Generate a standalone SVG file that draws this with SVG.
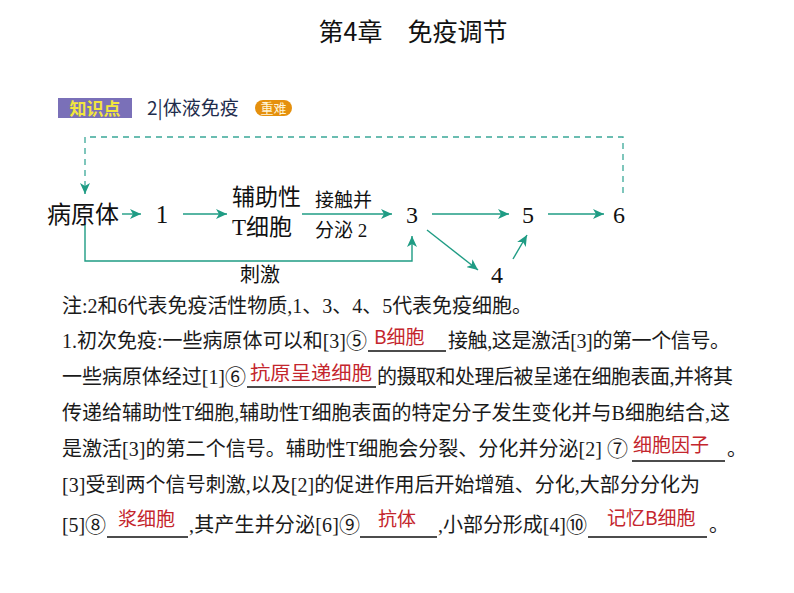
<svg xmlns="http://www.w3.org/2000/svg" width="794" height="593" viewBox="0 0 794 593">
<style>
.t{font-family:"Liberation Serif","Noto Sans CJK SC",serif;font-size:20px;fill:#1a1a1a}
.d{font-family:"Liberation Serif","Noto Sans CJK SC",serif;fill:#111}
.r{font-family:"Noto Sans CJK SC","Liberation Sans",sans-serif;font-size:19px;fill:#c4262d}
.n{font-family:"Noto Sans CJK SC","DejaVu Sans",sans-serif;font-size:21px}
.u{stroke:#111;stroke-width:1.3}
.c{fill:none;stroke:#1f9c84;stroke-width:1.4}
.dash{fill:none;stroke:#3aa898;stroke-width:1.3;stroke-dasharray:6 5}
</style>
<defs>
<marker id="ah" markerUnits="userSpaceOnUse" markerWidth="12" markerHeight="10" refX="11" refY="5" orient="auto">
<path d="M0,0 L11,5 L0,10 L3,5 z" fill="#1f9c84"/>
</marker>
</defs>
<rect width="794" height="593" fill="#fff"/>
<g id="title">
<text x="413" y="41" text-anchor="middle" font-family="Noto Sans CJK SC,Liberation Sans,sans-serif" font-size="25" fill="#111">第4章　免疫调节</text>
</g>
<g id="header">
<rect x="58" y="98" width="74" height="20" fill="#7a70b8"/>
<text x="95" y="114.5" text-anchor="middle" font-family="Noto Sans CJK SC,sans-serif" font-size="17" font-weight="bold" fill="#f2e63c">知识点</text>
<text x="147" y="114.5" font-family="Noto Sans CJK SC,sans-serif" font-size="19" fill="#1f2d4d">2|体液免疫</text>
<rect x="255" y="100" width="37" height="16" rx="8" fill="#e5900d"/>
<text x="273.5" y="113" text-anchor="middle" font-family="Noto Sans CJK SC,sans-serif" font-size="13" fill="#fff4d8">重难</text>
</g>
<g id="connectors">
<polyline class="dash" points="623,193 623,137 85,137 85,186"/>
<path d="M85,186 L85,194" class="c" marker-end="url(#ah)"/>
<line class="c" x1="122" y1="214" x2="141" y2="214" marker-end="url(#ah)"/>
<line class="c" x1="183" y1="214" x2="227" y2="214" marker-end="url(#ah)"/>
<line class="c" x1="302" y1="214" x2="392" y2="214" marker-end="url(#ah)"/>
<polyline class="c" points="85,224 85,261 412,261 412,236" marker-end="url(#ah)"/>
<line class="c" x1="432" y1="214" x2="509" y2="214" marker-end="url(#ah)"/>
<line class="c" x1="548" y1="214" x2="604" y2="214" marker-end="url(#ah)"/>
<line class="c" x1="427" y1="230" x2="478" y2="270" marker-end="url(#ah)"/>
<line class="c" x1="513" y1="259" x2="527" y2="235" marker-end="url(#ah)"/>
</g>
<g id="n-pathogen"><text class="d" x="47" y="223" font-size="24">病原体</text></g>
<g id="n-1"><text class="d" x="162" y="223" font-size="25" text-anchor="middle">1</text></g>
<g id="n-th"><text class="d" x="232" y="205" font-size="23">辅助性</text><text class="d" x="232" y="235" font-size="23">T细胞</text></g>
<g id="l-contact"><text class="d" x="315" y="207" font-size="19">接触并</text><text class="d" x="315" y="237" font-size="19">分泌 2</text></g>
<g id="n-3"><text class="d" x="412" y="223" font-size="24" text-anchor="middle">3</text></g>
<g id="n-5"><text class="d" x="528" y="223" font-size="24" text-anchor="middle">5</text></g>
<g id="n-6"><text class="d" x="619" y="223" font-size="24" text-anchor="middle">6</text></g>
<g id="n-4"><text class="d" x="497" y="283" font-size="24" text-anchor="middle">4</text></g>
<g id="l-stim"><text class="d" x="260" y="282" font-size="20" text-anchor="middle">刺激</text></g>
<g id="notes">
<text class="t" x="62" y="313" textLength="470" lengthAdjust="spacing">注:2和6代表免疫活性物质,1、3、4、5代表免疫细胞。</text>
<text class="t" x="62" y="348" textLength="305" lengthAdjust="spacing">1.初次免疫:一些病原体可以和[3]<tspan class="n">⑤</tspan></text>
<line class="u" x1="368" y1="351" x2="446" y2="351"/>
<text class="r" x="374" y="344">B细胞</text>
<text class="t" x="448" y="348" textLength="282" lengthAdjust="spacing">接触,这是激活[3]的第一个信号。</text>
<text class="t" x="62" y="384" textLength="184" lengthAdjust="spacing">一些病原体经过[1]<tspan class="n">⑥</tspan></text>
<line class="u" x1="247" y1="387" x2="376" y2="387"/>
<text class="r" x="250" y="380" font-size="20" textLength="122" lengthAdjust="spacingAndGlyphs">抗原呈递细胞</text>
<text class="t" x="377" y="384" textLength="356" lengthAdjust="spacing">的摄取和处理后被呈递在细胞表面,并将其</text>
<text class="t" x="62" y="420" textLength="668" lengthAdjust="spacing">传递给辅助性T细胞,辅助性T细胞表面的特定分子发生变化并与B细胞结合,这</text>
<text class="t" x="62" y="456" textLength="566" lengthAdjust="spacing">是激活[3]的第二个信号。辅助性T细胞会分裂、分化并分泌[2] <tspan class="n">⑦</tspan></text>
<line class="u" x1="632" y1="461" x2="725" y2="461"/>
<text class="r" x="633" y="452" font-size="20">细胞因子</text>
<text class="t" x="727" y="456">。</text>
<text class="t" x="62" y="492" textLength="638" lengthAdjust="spacing">[3]受到两个信号刺激,以及[2]的促进作用后开始增殖、分化,大部分分化为</text>
<text class="t" x="62" y="532" textLength="44" lengthAdjust="spacing">[5]<tspan class="n">⑧</tspan></text>
<line class="u" x1="107" y1="537" x2="188" y2="537"/>
<text class="r" x="118" y="526">浆细胞</text>
<text class="t" x="189" y="532" textLength="171" lengthAdjust="spacing">,其产生并分泌[6]<tspan class="n">⑨</tspan></text>
<line class="u" x1="360" y1="537" x2="437" y2="537"/>
<text class="r" x="378" y="526">抗体</text>
<text class="t" x="438" y="532" textLength="149" lengthAdjust="spacing">,小部分形成[4]<tspan class="n">⑩</tspan></text>
<line class="u" x1="588" y1="537" x2="707" y2="537"/>
<text class="r" x="607" y="525">记忆B细胞</text>
<text class="t" x="709" y="532">。</text>
</g>
</svg>
